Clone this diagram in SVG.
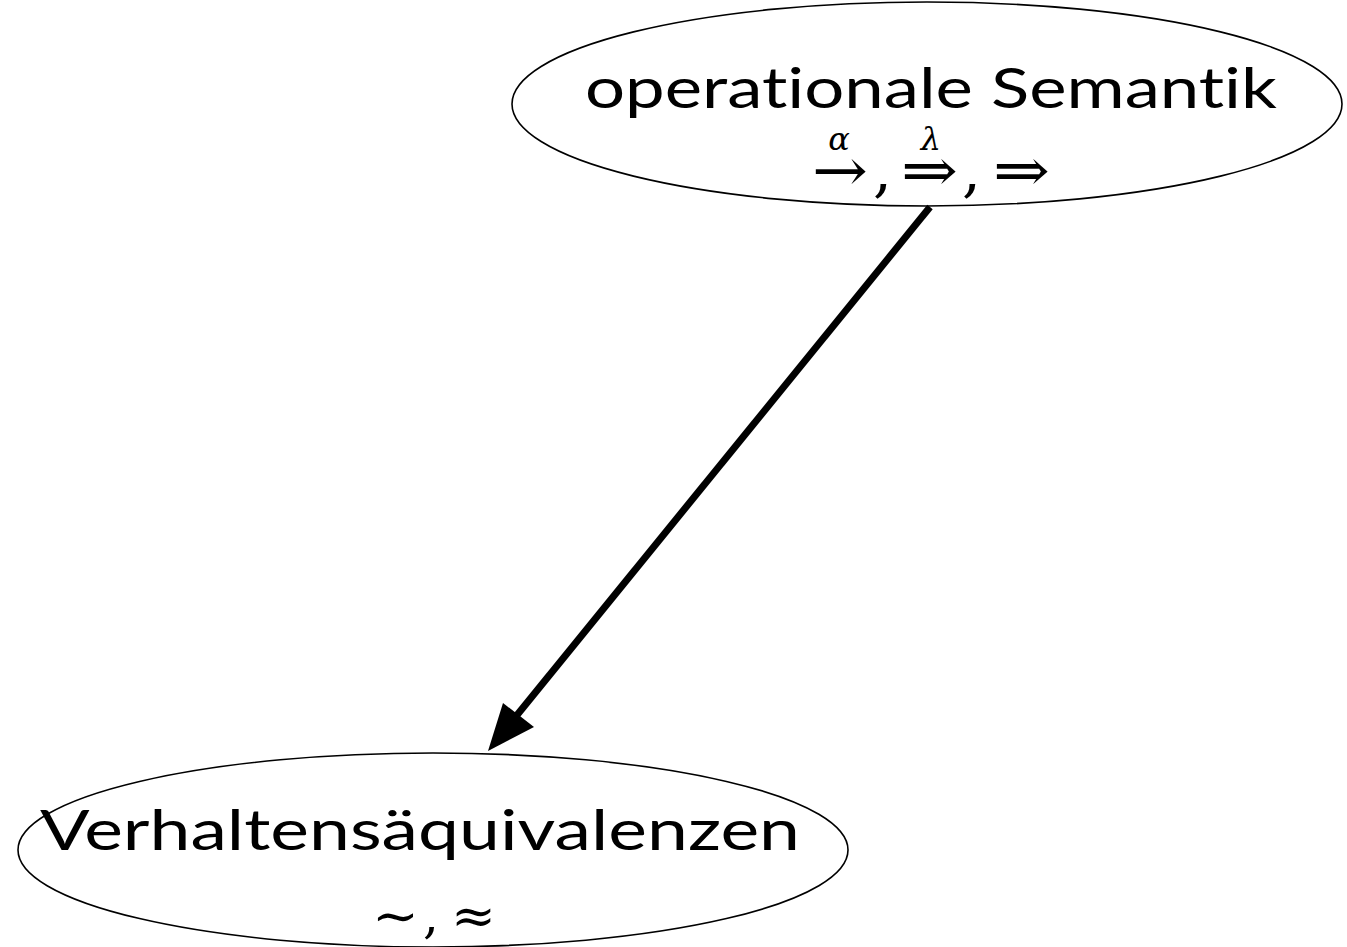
<svg xmlns="http://www.w3.org/2000/svg" width="1347" height="947" viewBox="0 0 1347 947">
  <style>
    .node { fill: none; stroke: #000; stroke-width: 1.6; }
    .label { font-family: "Lato", "DejaVu Sans", sans-serif; font-size: 56px; fill: #000; font-variant-ligatures: none; }
    .math { font-family: "DejaVu Serif", "Liberation Serif", serif; fill: #000; }
    .sym { font-size: 60px; }
    .low { font-size: 50px; }
    .sup { font-size: 32px; font-style: italic; }
  </style>
  <rect width="1347" height="947" fill="#fff"/>
  <g id="node-semantik">
    <ellipse class="node" cx="927" cy="104" rx="415" ry="102"/>
    <text class="label" x="931" y="108" text-anchor="middle" textLength="692" lengthAdjust="spacingAndGlyphs">operationale Semantik</text>
    <!-- relation symbols: arrows with their labels on top -->
    <text class="math sym" x="812" y="191" textLength="56" lengthAdjust="spacingAndGlyphs">→</text>
    <text class="math sym" x="873" y="191">,</text>
    <text class="math sym" x="901" y="191" textLength="57" lengthAdjust="spacingAndGlyphs">⇒</text>
    <text class="math sym" x="962" y="191">,</text>
    <text class="math sym" x="993" y="191" textLength="57" lengthAdjust="spacingAndGlyphs">⇒</text>
    <text class="math sup" x="839" y="150" text-anchor="middle">α</text>
    <text class="math sup" x="931" y="150" text-anchor="middle">λ</text>
  </g>
  <g id="node-aequivalenzen">
    <ellipse class="node" cx="433" cy="850" rx="415" ry="97"/>
    <text class="label" x="420" y="850" text-anchor="middle" textLength="760" lengthAdjust="spacingAndGlyphs">Verhaltensäquivalenzen</text>
    <text class="math low" x="372" y="933" textLength="47" lengthAdjust="spacingAndGlyphs">∼</text>
    <text class="math low" x="423" y="933">,</text>
    <text class="math low" x="451" y="933" textLength="45" lengthAdjust="spacingAndGlyphs">≈</text>
  </g>
  <g id="connectors">
    <line x1="930" y1="207" x2="513" y2="720" stroke="#000" stroke-width="7"/>
    <polygon points="488,751 503,703 534,727" fill="#000"/>
  </g>
</svg>
